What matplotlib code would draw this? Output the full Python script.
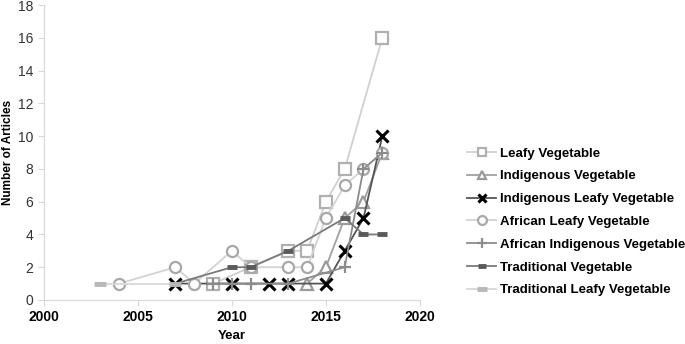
import matplotlib
matplotlib.use("Agg")
import matplotlib.pyplot as plt

# series (year, number of articles)
leafy_x = [2009, 2011, 2013, 2014, 2015, 2016, 2018]
leafy_y = [1, 2, 3, 3, 6, 8, 16]

indig_x = [2014, 2015, 2016, 2017, 2018]
indig_y = [1, 2, 5, 6, 9]

indig_leafy_x = [2007, 2010, 2012, 2013, 2015, 2016, 2017, 2018]
indig_leafy_y = [1, 1, 1, 1, 1, 3, 5, 10]

afr_leafy_x = [2004, 2007, 2008, 2010, 2011, 2013, 2014, 2015, 2016, 2017, 2018]
afr_leafy_y = [1, 2, 1, 3, 2, 2, 2, 5, 7, 8, 9]

afr_indig_x = [2009, 2010, 2011, 2013, 2016, 2017, 2018]
afr_indig_y = [1, 1, 1, 1, 2, 8, 9]

trad_x = [2007, 2010, 2011, 2013, 2016, 2017, 2018]
trad_y = [1, 2, 2, 3, 5, 4, 4]

trad_leafy_x = [2003, 2007]
trad_leafy_y = [1, 1]

plt.rcParams["font.family"] = ["Liberation Sans", "DejaVu Sans"]

fig = plt.figure(figsize=(6.85, 3.44), dpi=100)
ax = fig.add_axes([0.064, 0.128, 0.549, 0.857])

ax.plot(leafy_x, leafy_y, color="#d0d0d0", lw=1.3, marker="s", ms=8,
        mfc="white", mec="#b0b0b0", mew=1.6, label="Leafy Vegetable")
ax.plot(indig_x, indig_y, color="#a0a0a0", lw=1.3, marker="^", ms=8,
        mfc="white", mec="#9a9a9a", mew=1.6, label="Indigenous Vegetable")
ax.plot(indig_leafy_x, indig_leafy_y, color="#555555", lw=1.3, marker="x", ms=8,
        mec="black", mew=2.2, label="Indigenous Leafy Vegetable")
ax.plot(afr_leafy_x, afr_leafy_y, color="#d3d3d3", lw=1.3, marker="o", ms=8,
        mfc="white", mec="#a8a8a8", mew=1.6, label="African Leafy Vegetable")
ax.plot(afr_indig_x, afr_indig_y, color="#8c8c8c", lw=1.3, marker="+", ms=9,
        mec="#8c8c8c", mew=1.6, label="African Indigenous Vegetable")
ax.plot(trad_x, trad_y, color="#7a7a7a", lw=1.3, marker="_", ms=7,
        mec="#5a5a5a", mew=3.5, label="Traditional Vegetable")
ax.plot(trad_leafy_x, trad_leafy_y, color="#d8d8d8", lw=1.3, marker="_", ms=9,
        mec="#b8b8b8", mew=3.5, label="Traditional Leafy Vegetable")

ax.set_xlim(2000, 2020)
ax.set_ylim(0, 18)
ax.set_xticks(range(2000, 2021, 5))
ax.set_yticks(range(0, 19, 2))

for side in ["top", "right"]:
    ax.spines[side].set_visible(False)
for side in ["left", "bottom"]:
    ax.spines[side].set_color("#d9d9d9")
    ax.spines[side].set_linewidth(0.9)
ax.tick_params(axis="both", length=4, width=0.8, color="#d9d9d9",
               labelsize=10, labelcolor="#333333")
for lbl in ax.get_xticklabels():
    lbl.set_fontweight("bold")
    lbl.set_color("black")

ax.set_xlabel("Year", fontsize=9.5, fontweight="bold", labelpad=4)
ax.set_ylabel("Number of Articles", fontsize=8.5, fontweight="bold", labelpad=3)

fig.legend(loc="center left", bbox_to_anchor=(0.665, 0.355), frameon=False,
           prop={"weight": "bold", "size": 9.5}, markerscale=0.8,
           labelspacing=0.8, handlelength=2.2, handletextpad=0.3)

fig.savefig("out.png", dpi=100)
